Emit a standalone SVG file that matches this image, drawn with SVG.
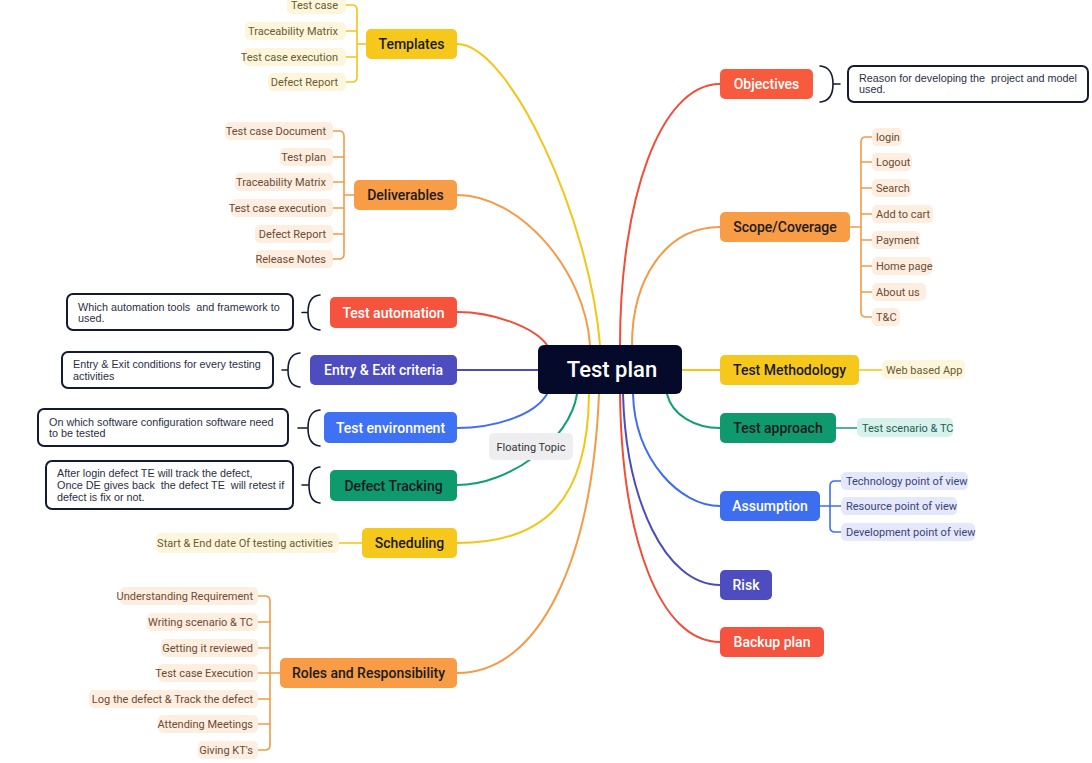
<svg xmlns="http://www.w3.org/2000/svg" width="1092" height="763" viewBox="0 0 1092 763">
<style>
.bg{fill:#ffffff}
.c{fill:none;stroke-width:2;stroke-linecap:round}
.y{stroke:#f3c515}.o{stroke:#f59a46}.r{stroke:#f04e3a}.i{stroke:#4b4bbd}.b{stroke:#3f6ef0}.g{stroke:#10a070}
.br{fill:none;stroke-width:1.6;stroke-linecap:round;stroke-linejoin:round}
.brace{fill:none;stroke:#141a33;stroke-width:1.6;stroke-linecap:round}
.n{font-family:Roboto,"Liberation Sans",Arial,sans-serif;font-size:14px;font-weight:500;text-anchor:middle}
.dk{fill:#1b1b1f}.wt{fill:#ffffff}
.ch{font-family:Roboto,"Liberation Sans",Arial,sans-serif;font-size:11px}
.L{text-anchor:end}.R{text-anchor:start}
.py{fill:#fdf6dc}.ty{fill:#6b5b2e}
.po{fill:#fdeee0}.to{fill:#6e4b35}
.pb{fill:#e4e8fc}.tb{fill:#3c4373}
.pg{fill:#d6f2ea}.tg{fill:#235e52}
.co{fill:#ffffff;stroke:#141a33;stroke-width:2}
.ct{font-family:"Liberation Sans",Arial,sans-serif;font-size:10.8px;fill:#2b2f45;white-space:pre}
</style>
<rect class="bg" x="0" y="0" width="1092" height="763"/>

<g id="connectors">
<path class="c y" d="M600,345 C590,220 510,44 457,44"/>
<path class="c o" d="M590,345 C585,270 520,195 457,195"/>
<path class="c r" d="M547,345 C535,328 495,312 457,312"/>
<path class="c i" d="M538,370 H457"/>
<path class="c b" d="M547,394 C535,415 495,428 457,428"/>
<path class="c g" d="M577,394 C570,440 510,485 457,485"/>
<path class="c y" d="M589,394 C588,500 545,543 457,543"/>
<path class="c o" d="M599,394 C592,560 540,673 457,673"/>
<path class="c r" d="M620,345 C620,200 660,84 720,84"/>
<path class="c o" d="M632,345 C632,280 665,227 720,227"/>
<path class="c y" d="M682,370 H720"/>
<path class="c g" d="M667,394 C672,415 695,428 720,428"/>
<path class="c b" d="M633,394 C635,460 680,506 720,506"/>
<path class="c i" d="M623,394 C626,500 665,585 720,585"/>
<path class="c r" d="M620,394 C622,540 660,642 720,642"/>
<path class="br y" d="M346,5 H352 Q357,5 357,10 V77 Q357,82 352,82 H346 M346,31 H357 M346,57 H357 M357,44 H366"/>
<path class="br o" d="M333,131 H339 Q344,131 344,136 V254 Q344,259 339,259 H333 M333,157 H344 M333,182 H344 M333,208 H344 M333,234 H344 M344,195 H354"/>
<path class="br o" d="M258,596 H265 Q270,596 270,601 V745 Q270,750 265,750 H258 M258,622 H270 M258,648 H270 M258,673 H280 M258,699 H270 M258,724 H270"/>
<path class="br y" d="M339,543 H362"/>
<path class="br o" d="M872,137 H866 Q861,137 861,142 V312 Q861,317 866,317 H872 M872,162 H861 M872,188 H861 M872,214 H861 M872,240 H861 M872,266 H861 M872,292 H861 M850,227 H861"/>
<path class="br y" d="M859,370 H882"/>
<path class="br g" d="M836,428 H857"/>
<path class="br b" d="M841,481 H835 Q830,481 830,486 V527 Q830,532 835,532 H841 M820,506 H841"/>
<path class="brace" d="M820,66 Q833,67 833,84 Q833,101 820,102 M833,84 H840"/>
<path class="brace" d="M320,295 Q308,296 308,312.5 Q308,329 320,330 M308,312.5 H302"/>
<path class="brace" d="M300,353 Q288,354 288,370 Q288,386 300,387 M288,370 H282"/>
<path class="brace" d="M320,410 Q308,411 308,428 Q308,445 320,446 M308,428 H298"/>
<path class="brace" d="M320,467 Q309,468 309,485 Q309,502 320,503 M309,485 H302"/>
</g>

<g id="center">
<rect x="538" y="345" width="144" height="49" rx="6" fill="#050a2a"/>
<text x="612" y="377" class="n wt" style="font-size:22px">Test plan</text>
</g>

<g id="templates">
<rect x="366" y="29" width="91" height="30" rx="5" fill="#f6c81c"/>
<text x="411.5" y="49" class="n dk">Templates</text>
<rect class="py" x="287" y="-4" width="59" height="18" rx="5"/><text class="ch L ty" x="338" y="9">Test case</text>
<rect class="py" x="245" y="22" width="101" height="18" rx="5"/><text class="ch L ty" x="338" y="35">Traceability Matrix</text>
<rect class="py" x="243" y="48" width="103" height="18" rx="5"/><text class="ch L ty" x="338" y="61">Test case execution</text>
<rect class="py" x="268" y="73" width="78" height="18" rx="5"/><text class="ch L ty" x="338" y="86">Defect Report</text>
</g>

<g id="deliverables">
<rect x="354" y="180" width="103" height="30" rx="5" fill="#f89c45"/>
<text x="405.5" y="200" class="n dk">Deliverables</text>
<rect class="po" x="225" y="122" width="108" height="18" rx="5"/><text class="ch L to" x="326" y="135">Test case Document</text>
<rect class="po" x="280" y="148" width="53" height="18" rx="5"/><text class="ch L to" x="326" y="161">Test plan</text>
<rect class="po" x="235" y="173" width="98" height="18" rx="5"/><text class="ch L to" x="326" y="186">Traceability Matrix</text>
<rect class="po" x="231" y="199" width="102" height="18" rx="5"/><text class="ch L to" x="326" y="212">Test case execution</text>
<rect class="po" x="255" y="225" width="78" height="18" rx="5"/><text class="ch L to" x="326" y="238">Defect Report</text>
<rect class="po" x="256" y="250" width="77" height="18" rx="5"/><text class="ch L to" x="326" y="263">Release Notes</text>
</g>

<g id="test-automation">
<rect x="330" y="297" width="127" height="31" rx="5" fill="#f5533e"/>
<text x="393.5" y="317.5" class="n wt">Test automation</text>
<rect class="co" x="67" y="294" width="226" height="36" rx="6"/>
<text class="ct" x="78" y="311">Which automation tools  and framework to</text>
<text class="ct" x="78" y="322">used.</text>
</g>

<g id="entry-exit">
<rect x="310" y="355" width="147" height="30" rx="5" fill="#4d4dbf"/>
<text x="383.5" y="375" class="n wt">Entry &amp; Exit criteria</text>
<rect class="co" x="62" y="352" width="211" height="36" rx="6"/>
<text class="ct" x="73" y="368">Entry &amp; Exit conditions for every testing</text>
<text class="ct" x="73" y="380">activities</text>
</g>

<g id="test-environment">
<rect x="324" y="412" width="133" height="31" rx="5" fill="#3f71f5"/>
<text x="390.5" y="432.5" class="n wt">Test environment</text>
<rect class="co" x="38" y="409" width="250" height="37" rx="6"/>
<text class="ct" x="49" y="426">On which software configuration software need</text>
<text class="ct" x="49" y="437">to be tested</text>
</g>

<g id="defect-tracking">
<rect x="330" y="470" width="127" height="31" rx="5" fill="#0e9a6c"/>
<text x="393.5" y="490.5" class="n dk">Defect Tracking</text>
<rect class="co" x="46" y="461" width="247" height="48" rx="6"/>
<text class="ct" x="57" y="477">After login defect TE will track the defect,</text>
<text class="ct" x="57" y="489">Once DE gives back  the defect TE  will retest if</text>
<text class="ct" x="57" y="501">defect is fix or not.</text>
</g>

<g id="scheduling">
<rect x="362" y="528" width="95" height="30" rx="5" fill="#f6c81c"/>
<text x="409.5" y="548" class="n dk">Scheduling</text>
<rect class="py" x="156" y="533" width="183" height="20" rx="5"/><text class="ch L ty" x="333" y="547">Start &amp; End date Of testing activities</text>
</g>

<g id="roles">
<rect x="280" y="658" width="177" height="30" rx="5" fill="#f89c45"/>
<text x="368.5" y="678" class="n dk">Roles and Responsibility</text>
<rect class="po" x="120" y="587" width="138" height="18" rx="5"/><text class="ch L to" x="253" y="600">Understanding Requirement</text>
<rect class="po" x="147" y="613" width="111" height="18" rx="5"/><text class="ch L to" x="253" y="626">Writing scenario &amp; TC</text>
<rect class="po" x="161" y="639" width="97" height="18" rx="5"/><text class="ch L to" x="253" y="652">Getting it reviewed</text>
<rect class="po" x="158" y="664" width="100" height="18" rx="5"/><text class="ch L to" x="253" y="677">Test case Execution</text>
<rect class="po" x="89" y="690" width="169" height="18" rx="5"/><text class="ch L to" x="253" y="703">Log the defect &amp; Track the defect</text>
<rect class="po" x="158" y="715" width="100" height="18" rx="5"/><text class="ch L to" x="253" y="728">Attending Meetings</text>
<rect class="po" x="198" y="741" width="60" height="18" rx="5"/><text class="ch L to" x="253" y="754">Giving KT's</text>
</g>

<g id="objectives">
<rect x="720" y="69" width="93" height="30" rx="5" fill="#f85a3e"/>
<text x="766.5" y="89" class="n wt">Objectives</text>
<rect class="co" x="848" y="66" width="240" height="36" rx="6"/>
<text class="ct" x="859" y="82">Reason for developing the  project and model</text>
<text class="ct" x="859" y="93">used.</text>
</g>

<g id="scope">
<rect x="720" y="212" width="130" height="30" rx="5" fill="#f89c45"/>
<text x="785" y="232" class="n dk">Scope/Coverage</text>
<rect class="po" x="872" y="128" width="30" height="18" rx="5"/><text class="ch R to" x="876" y="141">login</text>
<rect class="po" x="872" y="153" width="40" height="18" rx="5"/><text class="ch R to" x="876" y="166">Logout</text>
<rect class="po" x="872" y="179" width="39" height="18" rx="5"/><text class="ch R to" x="876" y="192">Search</text>
<rect class="po" x="872" y="205" width="61" height="18" rx="5"/><text class="ch R to" x="876" y="218">Add to cart</text>
<rect class="po" x="872" y="231" width="48" height="18" rx="5"/><text class="ch R to" x="876" y="244">Payment</text>
<rect class="po" x="872" y="257" width="60" height="18" rx="5"/><text class="ch R to" x="876" y="270">Home page</text>
<rect class="po" x="872" y="283" width="54" height="18" rx="5"/><text class="ch R to" x="876" y="296">About us</text>
<rect class="po" x="872" y="308" width="28" height="18" rx="5"/><text class="ch R to" x="876" y="321">T&amp;C</text>
</g>

<g id="methodology">
<rect x="720" y="355" width="139" height="30" rx="5" fill="#f6c81c"/>
<text x="789.5" y="375" class="n dk">Test Methodology</text>
<rect class="py" x="882" y="360" width="83" height="19" rx="5"/><text class="ch R ty" x="886" y="374">Web based App</text>
</g>

<g id="approach">
<rect x="720" y="413" width="116" height="30" rx="5" fill="#0e9a6c"/>
<text x="778" y="433" class="n dk">Test approach</text>
<rect class="pg" x="857" y="418" width="96" height="19" rx="5"/><text class="ch R tg" x="862" y="432">Test scenario &amp; TC</text>
</g>

<g id="assumption">
<rect x="720" y="491" width="100" height="30" rx="5" fill="#3d6ef0"/>
<text x="770" y="511" class="n wt">Assumption</text>
<rect class="pb" x="841" y="472" width="127" height="18" rx="5"/><text class="ch R tb" x="846" y="485">Technology point of view</text>
<rect class="pb" x="841" y="497" width="116" height="18" rx="5"/><text class="ch R tb" x="846" y="510">Resource point of view</text>
<rect class="pb" x="841" y="523" width="134" height="18" rx="5"/><text class="ch R tb" x="846" y="536">Development point of view</text>
</g>

<g id="risk">
<rect x="720" y="570" width="52" height="30" rx="5" fill="#4d4dbf"/>
<text x="746" y="590" class="n wt">Risk</text>
</g>

<g id="backup">
<rect x="720" y="627" width="104" height="30" rx="5" fill="#f5533e"/>
<text x="772" y="647" class="n wt">Backup plan</text>
</g>

<g id="floating-topic">
<rect x="489" y="433" width="84" height="27" rx="5" fill="#eeeef1"/>
<text x="531" y="451" class="ch" style="text-anchor:middle;fill:#333333">Floating Topic</text>
</g>
</svg>
